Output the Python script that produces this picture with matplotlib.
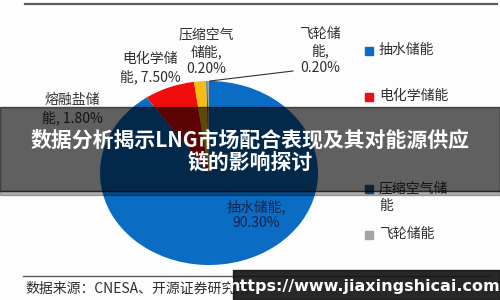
import matplotlib
matplotlib.use('Agg')
import matplotlib.pyplot as plt
from matplotlib.patches import Rectangle

plt.rcParams['font.family'] = ['Noto Sans CJK SC', 'DejaVu Sans']

# data
names = ['抽水储能', '电化学储能', '熔融盐储能', '压缩空气储能', '飞轮储能']
shares = [90.3, 7.5, 1.8, 0.2, 0.2]
colors = ['#0a6cc2', '#f10d0d', '#f7bd12', '#1d5f96', '#a3a3a3']
legend_text = ['抽水储能', '电化学储能', '熔融盐储能', '压缩空气储\n能', '飞轮储能']
title = '数据分析揭示LNG市场配合表现及其对能源供应\n链的影响探讨'
source = '数据来源：CNESA、开源证券研究所'
watermark = 'https://www.jiaxingshicai.com'

fig = plt.figure(figsize=(5, 3), dpi=100)
fig.patch.set_facecolor('#fdfdfd')

# pie, stretched a bit wider than tall like the original
cx, cy, rx, ry = 209, 173, 109, 92
ax = fig.add_axes([0, 0, 1, 1])
ax.pie(shares, colors=colors, startangle=90, counterclock=False,
       wedgeprops=dict(linewidth=0))
ax.set_aspect('auto')
ax.set_xlim(-cx / rx, (500 - cx) / rx)
ax.set_ylim(-(300 - cy) / ry, cy / ry)
ax.axis('off')

# overlay in pixel coords for everything else
ov = fig.add_axes([0, 0, 1, 1])
ov.set_xlim(0, 500)
ov.set_ylim(300, 0)
ov.axis('off')
ov.patch.set_alpha(0)

txt = dict(color='#2e2e2e', fontsize=10, zorder=3)
ov.plot([25, 497], [4, 4], color='#5a5a5a', lw=1.6, zorder=2)
ov.plot([23, 490], [276, 276], color='#5a5a5a', lw=1.0, zorder=2)
ov.text(25, 289, source, ha='left', va='center', **txt)

# slice labels
ov.text(72, 109, '熔融盐储\n能, 1.80%', ha='center', va='center', linespacing=1.25, **txt)
ov.text(150, 68, '电化学储\n能, 7.50%', ha='center', va='center', linespacing=1.25, **txt)
ov.text(206, 52, '压缩空气\n储能,\n0.20%', ha='center', va='center', linespacing=1.2, **txt)
ov.text(320, 51, '飞轮储\n能,\n0.20%', ha='center', va='center', linespacing=1.2, **txt)
ov.plot([293, 210], [71, 81], color='#333333', lw=0.8, zorder=3)
ov.text(256, 215, '抽水储能,\n90.30%', ha='center', va='center', linespacing=1.2,
        color='#16254a', fontsize=10, zorder=3)

# legend (third entry sits fully under the title banner, not visible)
for i, (lab, col) in enumerate(zip(legend_text, colors)):
    if i == 2:
        continue
    y = 51 + 46 * i
    ov.add_patch(Rectangle((365, y - 4), 8, 8, color=col, zorder=3))
    ov.text(379, y - 8, lab, ha='left', va='top', linespacing=1.35, **txt)

# title banner
ov.add_patch(Rectangle((0, 107), 500, 84, color='black', alpha=0.62, zorder=5))
ov.add_patch(Rectangle((0, 191), 500, 4, color='black', alpha=0.3, zorder=5))
ov.text(250, 151, title, ha='center', va='center', color='white', fontsize=15,
        fontweight='bold', linespacing=1.1, zorder=6)

# watermark
ov.add_patch(Rectangle((233, 270), 267, 30, color='#111111', alpha=0.9, zorder=7))
ov.text(364, 287, watermark, ha='center', va='center', color='white', fontsize=11.5,
        fontweight='bold', family=['DejaVu Sans'], zorder=8)

fig.savefig('out.png', dpi=100, facecolor=fig.get_facecolor())
